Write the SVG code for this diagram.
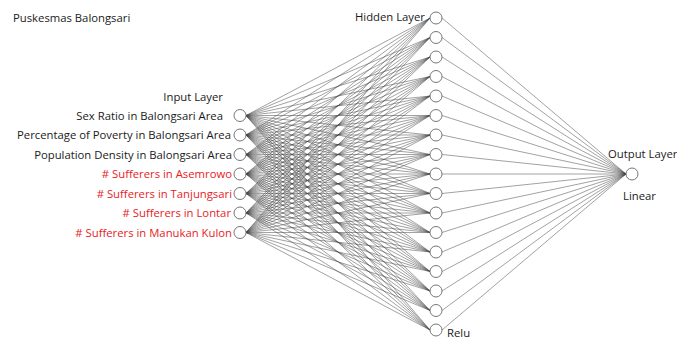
<svg xmlns="http://www.w3.org/2000/svg" width="677" height="339" viewBox="0 0 677 339">
<style>
text{font-family:"Open Sans","Liberation Sans",sans-serif;font-size:11.3px;fill:#1a1a1a}
.r{text-anchor:end}
.red{fill:#e8211f}
.n{fill:#fff;stroke:#666;stroke-width:0.9}
.c{fill:none;stroke:#444;stroke-width:0.5}
</style>
<rect width="677" height="339" fill="#fff"/>
<text x="13" y="22">Puskesmas Balongsari</text>
<g id="connectors">
<path class="c" d="M246,115.5L430,18M246,115.5L430,37.5M246,115.5L430,57M246,115.5L430,76.5M246,115.5L430,96M246,115.5L430,115.5M246,115.5L430,135M246,115.5L430,154.5M246,115.5L430,174M246,115.5L430,193.5M246,115.5L430,213M246,115.5L430,232.5M246,115.5L430,252M246,115.5L430,271.5M246,115.5L430,291M246,115.5L430,310.5M246,115.5L430,330"/>
<path class="c" d="M246,135L430,18M246,135L430,37.5M246,135L430,57M246,135L430,76.5M246,135L430,96M246,135L430,115.5M246,135L430,135M246,135L430,154.5M246,135L430,174M246,135L430,193.5M246,135L430,213M246,135L430,232.5M246,135L430,252M246,135L430,271.5M246,135L430,291M246,135L430,310.5M246,135L430,330"/>
<path class="c" d="M246,154.5L430,18M246,154.5L430,37.5M246,154.5L430,57M246,154.5L430,76.5M246,154.5L430,96M246,154.5L430,115.5M246,154.5L430,135M246,154.5L430,154.5M246,154.5L430,174M246,154.5L430,193.5M246,154.5L430,213M246,154.5L430,232.5M246,154.5L430,252M246,154.5L430,271.5M246,154.5L430,291M246,154.5L430,310.5M246,154.5L430,330"/>
<path class="c" d="M246,174L430,18M246,174L430,37.5M246,174L430,57M246,174L430,76.5M246,174L430,96M246,174L430,115.5M246,174L430,135M246,174L430,154.5M246,174L430,174M246,174L430,193.5M246,174L430,213M246,174L430,232.5M246,174L430,252M246,174L430,271.5M246,174L430,291M246,174L430,310.5M246,174L430,330"/>
<path class="c" d="M246,193.5L430,18M246,193.5L430,37.5M246,193.5L430,57M246,193.5L430,76.5M246,193.5L430,96M246,193.5L430,115.5M246,193.5L430,135M246,193.5L430,154.5M246,193.5L430,174M246,193.5L430,193.5M246,193.5L430,213M246,193.5L430,232.5M246,193.5L430,252M246,193.5L430,271.5M246,193.5L430,291M246,193.5L430,310.5M246,193.5L430,330"/>
<path class="c" d="M246,213L430,18M246,213L430,37.5M246,213L430,57M246,213L430,76.5M246,213L430,96M246,213L430,115.5M246,213L430,135M246,213L430,154.5M246,213L430,174M246,213L430,193.5M246,213L430,213M246,213L430,232.5M246,213L430,252M246,213L430,271.5M246,213L430,291M246,213L430,310.5M246,213L430,330"/>
<path class="c" d="M246,232.5L430,18M246,232.5L430,37.5M246,232.5L430,57M246,232.5L430,76.5M246,232.5L430,96M246,232.5L430,115.5M246,232.5L430,135M246,232.5L430,154.5M246,232.5L430,174M246,232.5L430,193.5M246,232.5L430,213M246,232.5L430,232.5M246,232.5L430,252M246,232.5L430,271.5M246,232.5L430,291M246,232.5L430,310.5M246,232.5L430,330"/>
<path class="c" d="M442,18L626,174M442,37.5L626,174M442,57L626,174M442,76.5L626,174M442,96L626,174M442,115.5L626,174M442,135L626,174M442,154.5L626,174M442,174L626,174M442,193.5L626,174M442,213L626,174M442,232.5L626,174M442,252L626,174M442,271.5L626,174M442,291L626,174M442,310.5L626,174M442,330L626,174"/>
</g>
<g id="input-layer">
<text class="r" x="223" y="101">Input Layer</text>
<g id="in1"><circle class="n" cx="240" cy="115.5" r="6"/><text class="r" x="223" y="119.5">Sex Ratio in Balongsari Area</text></g>
<g id="in2"><circle class="n" cx="240" cy="135" r="6"/><text class="r" x="231" y="139">Percentage of Poverty in Balongsari Area</text></g>
<g id="in3"><circle class="n" cx="240" cy="154.5" r="6"/><text class="r" x="232" y="158.5">Population Density in Balongsari Area</text></g>
<g id="in4"><circle class="n" cx="240" cy="174" r="6"/><text class="r red" x="232" y="178"># Sufferers in Asemrowo</text></g>
<g id="in5"><circle class="n" cx="240" cy="193.5" r="6"/><text class="r red" x="232" y="197.5"># Sufferers in Tanjungsari</text></g>
<g id="in6"><circle class="n" cx="240" cy="213" r="6"/><text class="r red" x="231" y="217"># Sufferers in Lontar</text></g>
<g id="in7"><circle class="n" cx="240" cy="232.5" r="6"/><text class="r red" x="232" y="236.5"># Sufferers in Manukan Kulon</text></g>
</g>
<g id="hidden-layer">
<text class="r" x="425" y="21">Hidden Layer</text>
<text x="447" y="336.5">Relu</text>
<circle id="h1" class="n" cx="436" cy="18" r="6"/>
<circle id="h2" class="n" cx="436" cy="37.5" r="6"/>
<circle id="h3" class="n" cx="436" cy="57" r="6"/>
<circle id="h4" class="n" cx="436" cy="76.5" r="6"/>
<circle id="h5" class="n" cx="436" cy="96" r="6"/>
<circle id="h6" class="n" cx="436" cy="115.5" r="6"/>
<circle id="h7" class="n" cx="436" cy="135" r="6"/>
<circle id="h8" class="n" cx="436" cy="154.5" r="6"/>
<circle id="h9" class="n" cx="436" cy="174" r="6"/>
<circle id="h10" class="n" cx="436" cy="193.5" r="6"/>
<circle id="h11" class="n" cx="436" cy="213" r="6"/>
<circle id="h12" class="n" cx="436" cy="232.5" r="6"/>
<circle id="h13" class="n" cx="436" cy="252" r="6"/>
<circle id="h14" class="n" cx="436" cy="271.5" r="6"/>
<circle id="h15" class="n" cx="436" cy="291" r="6"/>
<circle id="h16" class="n" cx="436" cy="310.5" r="6"/>
<circle id="h17" class="n" cx="436" cy="330" r="6"/>
</g>
<g id="output-layer">
<circle class="n" cx="632" cy="174" r="6"/>
<text x="608" y="157.5">Output Layer</text>
<text x="623" y="199.5">Linear</text>
</g>
</svg>
